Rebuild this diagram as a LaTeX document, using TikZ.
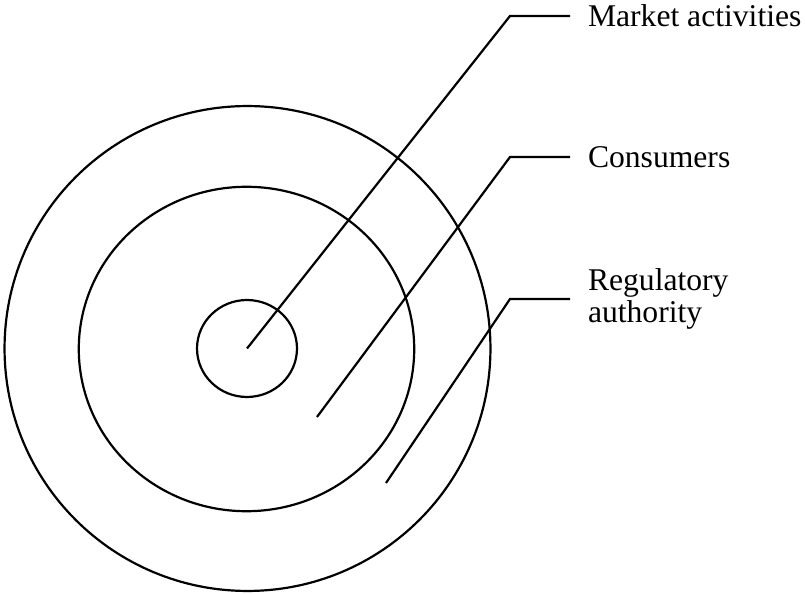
\documentclass[tikz,border=0pt]{standalone}
\usepackage{fontspec}
\setmainfont{Liberation Serif}
\usetikzlibrary{shapes.geometric}

\begin{document}
\begin{tikzpicture}[x=0.02cm, y=-0.02cm, line width=1.25pt,
    ring/.style={draw, ellipse, inner sep=0pt, outer sep=0pt},
    tag/.style={anchor=west, align=left, inner xsep=0.36cm, inner ysep=0pt, outer sep=0pt,
        font=\fontsize{18}{18}\selectfont}]
    \useasboundingbox (0, 0) rectangle (805, 594);

    % Rings
    \coordinate (centre) at (247.5, 348.5);
    \node[ring, minimum width=9.72cm, minimum height=9.7cm] (outer) at (centre) {};
    \node[ring, minimum width=6.71cm, minimum height=6.49cm] (middle) at (246.5, 349) {};
    \node[ring, minimum width=2cm, minimum height=1.94cm] (inner) at (247, 348.5) {};

    % Labels
    \node[tag] (market) at (570, 16) {Market activities};
    \node[tag] (consumers) at (570, 157) {Consumers};
    \node[tag] (regulator) at (570, 299) {Regulatory\\authority};

    % Leader lines
    \coordinate (consumers start) at (317, 417);
    \coordinate (regulator start) at (386, 483);
    \draw (inner.center) -- (510, 16) -- (market.west);
    \draw (consumers start) -- (510, 157) -- (consumers.west);
    \draw (regulator start) -- (510, 299) -- (regulator.west);
\end{tikzpicture}
\end{document}
